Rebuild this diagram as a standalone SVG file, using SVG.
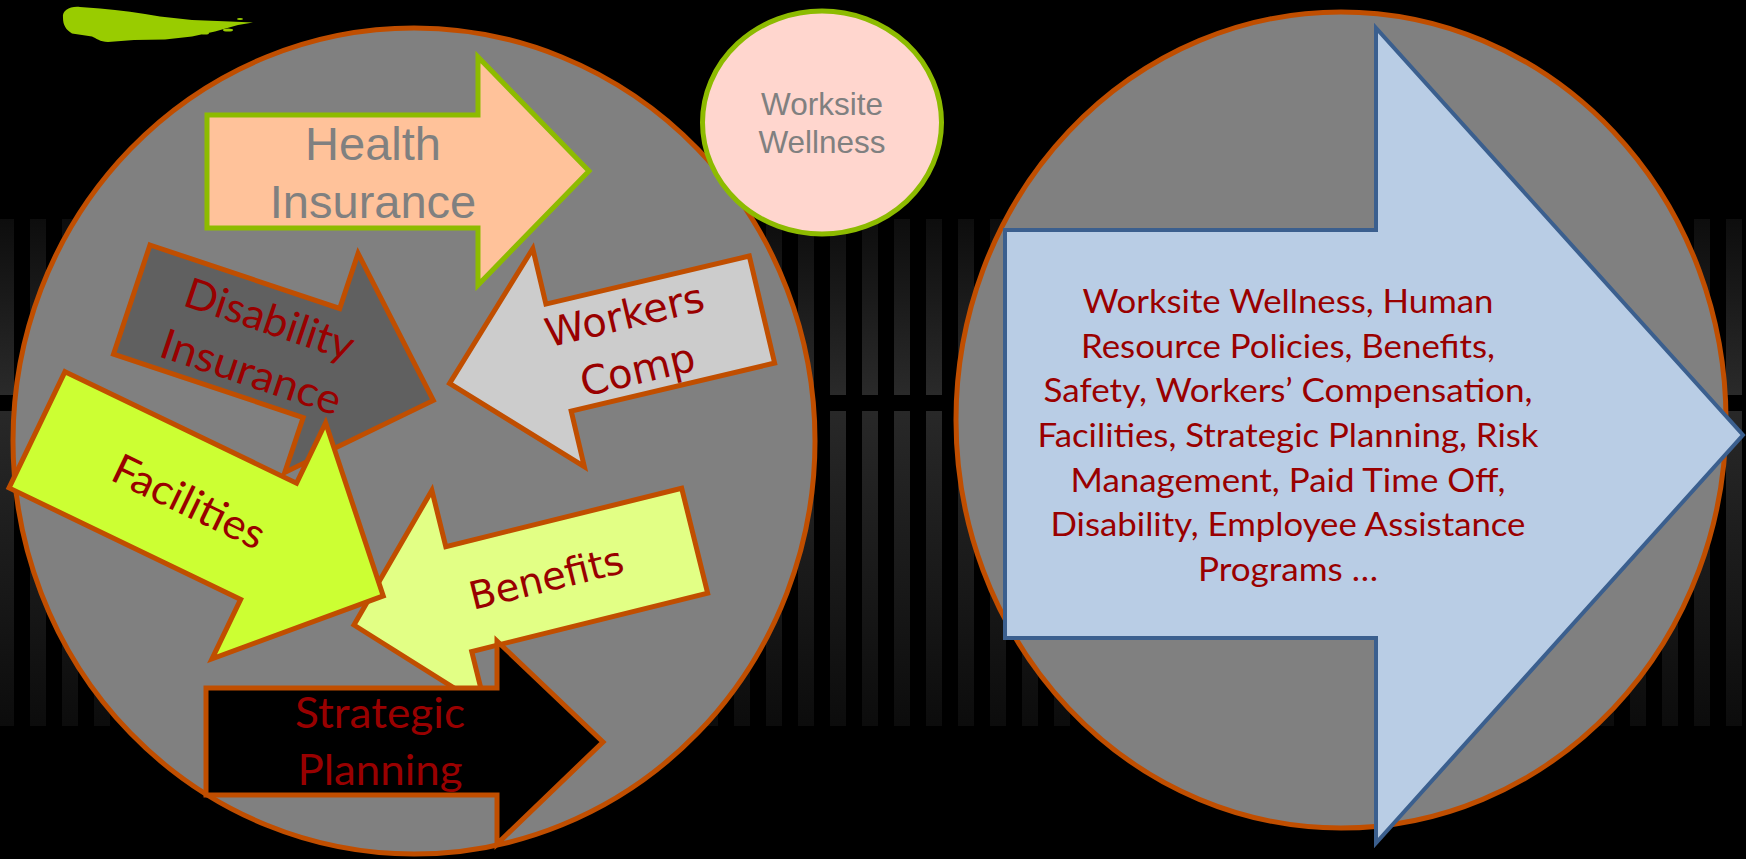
<svg xmlns="http://www.w3.org/2000/svg" width="1746" height="859" viewBox="0 0 1746 859">
  <defs>
    <linearGradient id="gTop" x1="0" y1="0" x2="0" y2="1">
      <stop offset="0" stop-color="#0d0d0d"/>
      <stop offset="1" stop-color="#2a2a2a"/>
    </linearGradient>
    <linearGradient id="gBot" x1="0" y1="0" x2="0" y2="1">
      <stop offset="0" stop-color="#282828"/>
      <stop offset="1" stop-color="#0c0c0c"/>
    </linearGradient>
    <pattern id="stripesTop" patternUnits="userSpaceOnUse" x="-2" y="219" width="32" height="176">
      <rect x="0" y="0" width="16" height="176" fill="url(#gTop)"/>
    </pattern>
    <pattern id="stripesBot" patternUnits="userSpaceOnUse" x="-2" y="411" width="32" height="315">
      <rect x="0" y="0" width="16" height="315" fill="url(#gBot)"/>
    </pattern>
  </defs>
  <style>
    .ring { fill: #808080; stroke: #C04E00; stroke-width: 5; }
    .arrow { stroke: #C04E00; stroke-width: 5; stroke-linejoin: miter; }
    .green { stroke: #8DBB00; stroke-width: 5; }
    .cal { font-family: Lato, "Liberation Sans", sans-serif; fill: #990000; text-anchor: middle; }
    .dv { font-family: "DejaVu Sans", sans-serif; fill: #990000; text-anchor: middle; }
    .ar { font-family: "Liberation Sans", Arial, sans-serif; fill: #808080; text-anchor: middle; }
  </style>

  <!-- backdrop -->
  <rect x="0" y="0" width="1746" height="859" fill="#000000"/>
  <rect x="0" y="219" width="1746" height="176" fill="url(#stripesTop)"/>
  <rect x="0" y="411" width="1746" height="315" fill="url(#stripesBot)"/>

  <!-- brush mark -->
  <g id="brush" fill="#99CC00">
    <path d="M63,18 C62,10 70,6 80,7 L100,8.5 C120,10 140,13 160,16.5 L192,20 L230,21.5 L253,22.5 L238,25 L215,31.5 L192,36.5 L165,39.5 L134,40 L108,42 C100,42 96,38 92,36.5 L82,35 L72,33.5 C66,30 63,25 63,18 Z"/>
    <ellipse cx="205" cy="33" rx="4" ry="1.5"/>
    <ellipse cx="228" cy="30" rx="5" ry="1.5"/>
    <ellipse cx="240" cy="19" rx="3" ry="1"/>
  </g>

  <!-- left cluster -->
  <g id="left-circle">
    <ellipse class="ring" cx="414" cy="441" rx="401" ry="413"/>
  </g>

  <!-- right cluster -->
  <g id="right-circle">
    <ellipse class="ring" cx="1341" cy="420" rx="385" ry="408"/>
  </g>

  <g id="worksite-wellness">
    <ellipse class="green" cx="822" cy="122.5" rx="119.5" ry="111.5" fill="#FFD6CE"/>
    <text class="ar" x="822" y="115" font-size="31.5">Worksite</text>
    <text class="ar" x="822" y="153" font-size="31.5">Wellness</text>
  </g>

  <g id="health-insurance">
    <polygon class="green" fill="#FFC29A" points="207,115 478,115 478,57 589,171 478,285 478,228 207,228"/>
    <text class="ar" x="373" y="160" font-size="47">Health</text>
    <text class="ar" x="373" y="218" font-size="47">Insurance</text>
  </g>

  <g id="disability-insurance" transform="translate(150,245) rotate(18.5)">
    <polygon class="arrow" fill="#606060" points="0,0 200,0 200,-58 318,57.5 200,173 200,115 0,115"/>
    <text class="cal" x="137" y="47" font-size="42" textLength="176" lengthAdjust="spacingAndGlyphs">Disability</text>
    <text class="cal" x="136" y="103" font-size="42" textLength="188" lengthAdjust="spacingAndGlyphs">Insurance</text>
  </g>

  <g id="workers-comp" transform="translate(749.3,256) rotate(-13.3)">
    <polygon class="arrow" fill="#CCCCCC" points="0,0 -209,0 -209,-57 -321,55 -209,167 -209,110 0,110"/>
    <text class="dv" x="-135" y="43" font-size="40">Workers</text>
    <text class="dv" x="-135" y="99" font-size="40">Comp</text>
  </g>

  <g id="benefits" transform="translate(681.7,488.3) rotate(-13.9)">
    <polygon class="arrow" fill="#E2FF85" points="0,0 -243,0 -243,-58 -351,54 -243,166 -243,108 0,108"/>
    <text class="dv" x="-153" y="68" font-size="38.5">Benefits</text>
  </g>

  <g id="facilities" transform="translate(65,371.7) rotate(25.7)">
    <polygon class="arrow" fill="#CCFF33" points="0,0 257,0 257,-67 384,64 257,195 257,129 0,129"/>
    <text class="cal" x="168" y="78" font-size="42" textLength="164" lengthAdjust="spacingAndGlyphs">Facilities</text>
  </g>

  <g id="strategic-planning">
    <polygon class="arrow" fill="#000000" points="206,688 497,688 497,641 603,742 497,844 497,795 206,795"/>
    <text class="cal" x="380" y="728" font-size="42" textLength="170" lengthAdjust="spacingAndGlyphs">Strategic</text>
    <text class="cal" x="380" y="785" font-size="42" textLength="165" lengthAdjust="spacingAndGlyphs">Planning</text>
  </g>

  <g id="summary-arrow">
    <polygon fill="#B9CDE5" stroke="#3B5F8E" stroke-width="4" points="1005,230 1376,230 1376,28 1743,435 1376,843 1376,638 1005,638"/>
    <g class="cal" font-size="32.5">
      <text x="1288" y="313" textLength="411" lengthAdjust="spacingAndGlyphs">Worksite Wellness, Human</text>
      <text x="1288" y="357.5" textLength="414" lengthAdjust="spacingAndGlyphs">Resource Policies, Benefits,</text>
      <text x="1288" y="402.3" textLength="489" lengthAdjust="spacingAndGlyphs">Safety, Workers’ Compensation,</text>
      <text x="1288" y="447" textLength="501" lengthAdjust="spacingAndGlyphs">Facilities, Strategic Planning, Risk</text>
      <text x="1288" y="491.7" textLength="435" lengthAdjust="spacingAndGlyphs">Management, Paid Time Off,</text>
      <text x="1288" y="536.3" textLength="475" lengthAdjust="spacingAndGlyphs">Disability, Employee Assistance</text>
      <text x="1288" y="581" textLength="180" lengthAdjust="spacingAndGlyphs">Programs …</text>
    </g>
  </g>
</svg>
